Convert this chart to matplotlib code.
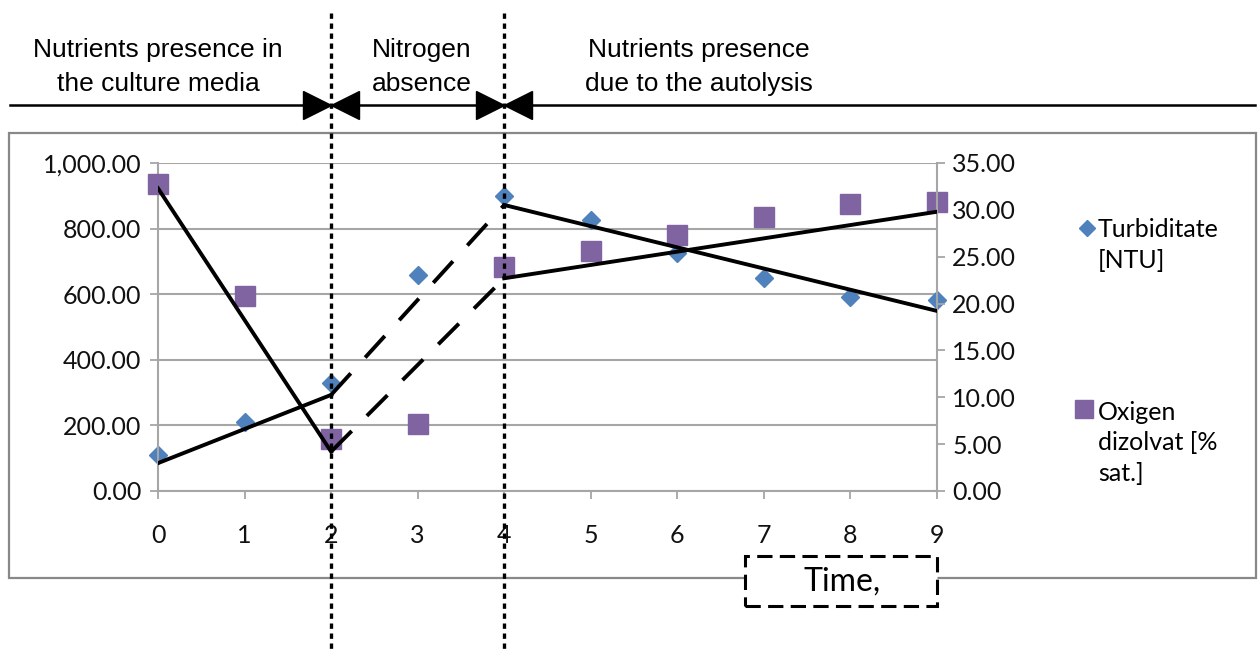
import matplotlib
matplotlib.use('Agg')
import matplotlib.pyplot as plt
import matplotlib.transforms as mtransforms
from matplotlib.lines import Line2D
from matplotlib.patches import Rectangle
from matplotlib.ticker import FuncFormatter, MultipleLocator

# data
time = [0, 1, 2, 3, 4, 5, 6, 7, 8, 9]
turbidity = [110, 211, 330, 659, 899, 826, 725, 648, 592, 582]       # NTU, left axis
oxygen = [32.8, 20.8, 5.6, 7.2, 23.9, 25.6, 27.3, 29.2, 30.6, 30.8]  # % sat., right axis

# hand drawn trend lines (phase boundaries at t=2 and t=4)
trend_t = [0, 2, 4, 9]
turb_trend = [85, 293, 872, 549]
oxy_trend = [32.3, 4.2, 22.7, 29.8]
phase_bounds = [2, 4]
phase_labels = ['Nutrients presence in\nthe culture media', 'Nitrogen\nabsence',
                'Nutrients presence\ndue to the autolysis']
phase_label_x = [0, 3.05, 6.25]   # in time units, centre of each label

W, H = 1260, 652
blue = '#4f81bd'
purple = '#8064a2'
grid_c = '#a6a6a6'
tick_font = {'family': 'Lato', 'size': 18}

fig = plt.figure(figsize=(W / 100, H / 100), dpi=100)
ax = fig.add_axes([158 / W, 1 - 491 / H, (937 - 158) / W, (491 - 163) / H])
ax2 = ax.twinx()

ax.plot(time, turbidity, ls='none', marker='D', ms=9.3, color=blue, mec=blue, clip_on=False)
ax2.plot(time, oxygen, ls='none', marker='s', ms=13.8, color=purple, mec=purple, clip_on=False)

# trend lines drawn on top of both series
lw_t = 2.8
dash = (0, (7.5, 5.5))
ax2.plot(trend_t[:2], turb_trend[:2], color='black', lw=lw_t, transform=ax.transData, zorder=5)
ax2.plot(trend_t[1:3], turb_trend[1:3], color='black', lw=lw_t, ls=dash,
         transform=ax.transData, zorder=5)
ax2.plot(trend_t[2:], turb_trend[2:], color='black', lw=lw_t, transform=ax.transData, zorder=5)
ax2.plot(trend_t[:2], oxy_trend[:2], color='black', lw=lw_t, zorder=5)
ax2.plot(trend_t[1:3], oxy_trend[1:3], color='black', lw=lw_t, ls=dash, zorder=5)
ax2.plot(trend_t[2:], oxy_trend[2:], color='black', lw=lw_t, zorder=5)

ax.set_xlim(0, 9)
ax.set_ylim(0, 1000)
ax2.set_ylim(0, 35)
ax.set_xticks(time)
ax.yaxis.set_major_locator(MultipleLocator(200))
ax2.yaxis.set_major_locator(MultipleLocator(5))
ax.yaxis.set_major_formatter(FuncFormatter(lambda v, p: '{:,.2f}'.format(v)))
ax2.yaxis.set_major_formatter(FuncFormatter(lambda v, p: '{:.2f}'.format(v)))
ax.grid(axis='y', color=grid_c, lw=1.5)
ax.set_axisbelow(True)

for a in (ax, ax2):
    for s in a.spines.values():
        s.set_visible(False)
    a.tick_params(colors=grid_c, width=1.3, length=6, labelcolor='#111111')
    for lab in a.get_xticklabels() + a.get_yticklabels():
        lab.set_fontfamily(tick_font['family'])
        lab.set_fontsize(tick_font['size'])
ax.spines['left'].set_visible(True)
ax.spines['bottom'].set_visible(True)
ax2.spines['right'].set_visible(True)
for s in (ax.spines['left'], ax.spines['bottom'], ax2.spines['right']):
    s.set_color(grid_c)
    s.set_linewidth(1.5)
ax.tick_params(axis='x', pad=18)
ax.tick_params(axis='y', pad=6)
ax2.tick_params(axis='y', pad=5)

# legend, Excel style on the right
fig.add_artist(Line2D([1087 / W], [1 - 228 / H], marker='D', ms=8.5, color=blue, ls='none'))
fig.add_artist(Line2D([1084 / W], [1 - 409 / H], marker='s', ms=13, color=purple, ls='none'))
fig.text(1098 / W, 1 - 245 / H, 'Turbiditate\n[NTU]', family='Lato', size=18,
         va='center', ha='left', linespacing=1.4)
fig.text(1098 / W, 1 - 443 / H, 'Oxigen\ndizolvat [%\nsat.]', family='Lato', size=18,
         va='center', ha='left', linespacing=1.4)

# outer chart frame
fig.add_artist(Rectangle((9 / W, 1 - 578 / H), (1256 - 9) / W, (578 - 133) / H,
                         transform=fig.transFigure, fill=False, ec='#888888', lw=1.6, zorder=1))

# phase boundaries: dotted verticals, top axis line with arrow heads
bt = mtransforms.blended_transform_factory(ax.transData, fig.transFigure)
for b in phase_bounds:
    fig.add_artist(Line2D([b, b], [1 - 13 / H, 0], transform=bt, color='black', lw=2.4,
                          ls=(0, (1.6, 1.4)), zorder=10))
    right_tr = bt + mtransforms.ScaledTranslation(-0.14, 0, fig.dpi_scale_trans)
    left_tr = bt + mtransforms.ScaledTranslation(0.14, 0, fig.dpi_scale_trans)
    fig.add_artist(Line2D([b], [1 - 105 / H], transform=right_tr, marker='>', ms=20,
                          color='black', ls='none', zorder=9))
    fig.add_artist(Line2D([b], [1 - 105 / H], transform=left_tr, marker='<', ms=20,
                          color='black', ls='none', zorder=9))
fig.add_artist(Line2D([10 / W, 1255 / W], [1 - 105 / H, 1 - 105 / H], color='black', lw=1.8))

for x, lab in zip(phase_label_x, phase_labels):
    fig.text(x, 1 - 67 / H, lab, transform=bt, ha='center', va='center',
             family='Liberation Sans', size=19, linespacing=1.55)

# "Time," box
fig.add_artist(Rectangle((745 / W, 1 - 606 / H), (937 - 745) / W, (606 - 556) / H,
                         transform=fig.transFigure, fc='white', ec='black', lw=2.2,
                         ls=(0, (5, 2.4)), zorder=3))
fig.text(842 / W, 1 - 582 / H, 'Time,', family='Lato', size=23, ha='center', va='center',
         zorder=4)

fig.savefig('out.png', dpi=100)
